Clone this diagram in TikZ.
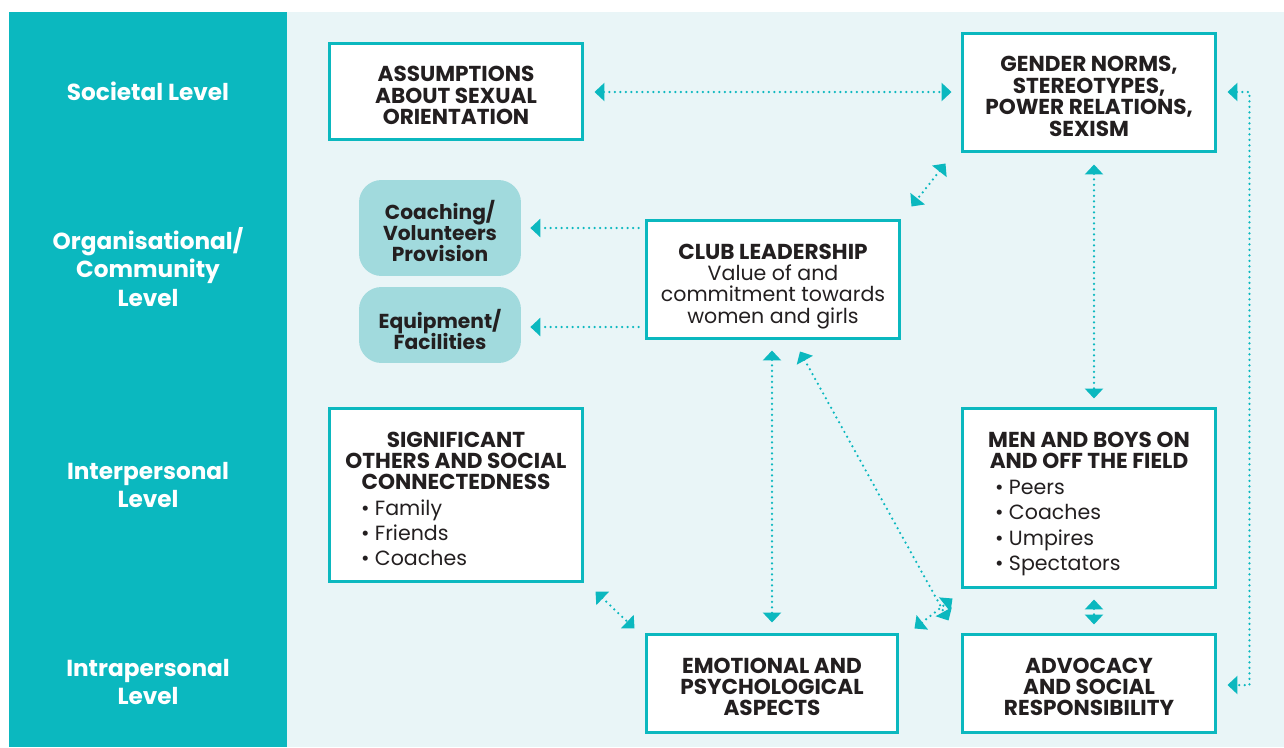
\documentclass[tikz,border=0pt]{standalone}
\usepackage{fontspec}
\setmainfont{Poppins}
\usetikzlibrary{arrows.meta,calc}
\definecolor{teal}{HTML}{0BB8BF}
\definecolor{panel}{HTML}{E9F5F7}
\definecolor{soft}{HTML}{A1DADD}
\definecolor{ink}{HTML}{231F20}
\AtBeginDocument{\lineskiplimit=-20pt\relax}
\tikzset{
  box/.style={draw=teal, line width=0.06cm, fill=white, inner sep=0pt, text=ink, align=center,
    font=\fontsize{12.3}{12.2}\selectfont},
  softbox/.style={fill=soft, rounded corners=0.45cm, inner sep=0pt, text=ink, align=center,
    font=\bfseries\fontsize{11.5}{12}\selectfont},
  lvl/.style={text=white, align=center, font=\bfseries\fontsize{13.2}{16}\selectfont},
  conn/.style={draw=teal, line width=0.05cm, dash pattern=on 0pt off 0.11cm, line cap=round,
    {Triangle[length=0.2cm,width=0.36cm]}-{Triangle[length=0.2cm,width=0.36cm]}},
  conn1/.style={draw=teal, line width=0.05cm, dash pattern=on 0pt off 0.11cm, line cap=round,
    -{Triangle[length=0.2cm,width=0.36cm]}}
}
\newcommand{\body}{\fontsize{11.7}{12.2}\selectfont\mdseries}
\newcommand{\bul}[2]{\makebox[#1][l]{\body\textbullet\ #2}}
\newcommand{\tp}[1]{\rule{0pt}{#1}}
\begin{document}
\begin{tikzpicture}[x=0.02cm,y=-0.02cm]
\useasboundingbox (0,0) rectangle (1284,747);
\fill[white] (0,0) rectangle (1284,747);
\fill[panel] (287,12) rectangle (1284,747);
\fill[teal] (9,12) rectangle (287,747);
% level labels
\node[lvl] (l1) at (148,91) {Societal Level};
\node[lvl] (l2) at (148,267) {Organisational/\\Community\\Level};
\node[lvl] (l3) at (148,485) {Interpersonal\\Level};
\node[lvl] (l4) at (148,682) {Intrapersonal\\Level};
% boxes
\node[box, minimum width=5.08cm, minimum height=1.94cm] (ass) at (456,91.5)
  {\tp{13.2pt}\bfseries ASSUMPTIONS\\\bfseries ABOUT SEXUAL\\\bfseries ORIENTATION};
\node[box, minimum width=5.08cm, minimum height=2.38cm] (gen) at (1089,92.5)
  {\tp{13.2pt}\bfseries GENDER NORMS,\\\bfseries STEREOTYPES,\\\bfseries POWER RELATIONS,\\\bfseries SEXISM};
\node[softbox, minimum width=3.24cm, minimum height=1.92cm] (coach) at (440,228)
  {\tp{14pt}Coaching/\\Volunteers\\Provision};
\node[softbox, minimum width=3.24cm, minimum height=1.52cm] (equip) at (440,325)
  {\tp{16.3pt}Equipment/\\Facilities};
\node[box, minimum width=5.08cm, minimum height=2.38cm] (club) at (773,279.5)
  {\tp{16.5pt}\bfseries CLUB LEADERSHIP\\{\body Value of and}\\{\body commitment towards}\\{\body women and girls}};
\node[box, minimum width=5.08cm, minimum height=3.48cm] (sig) at (456,495)
  {\tp{13.2pt}\bfseries SIGNIFICANT\\\bfseries OTHERS AND SOCIAL\\\bfseries CONNECTEDNESS\\[2.2pt]
   \bul{3.8cm}{Family}\\[2.2pt]
   \bul{3.8cm}{Friends}\\[2.2pt]
   \bul{3.8cm}{Coaches}};
\node[box, minimum width=5.08cm, minimum height=3.6cm] (men) at (1089,498)
  {\tp{15.4pt}\bfseries MEN AND BOYS ON\\\bfseries AND OFF THE FIELD\\[2.5pt]
   \bul{3.76cm}{Peers}\\[2.2pt]
   \bul{3.76cm}{Coaches}\\[2.2pt]
   \bul{3.76cm}{Umpires}\\[2.2pt]
   \bul{3.76cm}{Spectators}};
\node[box, minimum width=5.04cm, minimum height=1.96cm] (emo) at (772,683)
  {\tp{13.2pt}\bfseries EMOTIONAL AND\\\bfseries PSYCHOLOGICAL\\\bfseries ASPECTS};
\node[box, minimum width=5.08cm, minimum height=1.96cm] (adv) at (1089,683)
  {\tp{13.2pt}\bfseries ADVOCACY\\\bfseries AND SOCIAL\\\bfseries RESPONSIBILITY};
% connectors
\draw[conn] ($(ass.east)+(10,0.5)$) -- ($(gen.west)+(-9,-0.5)$);
\draw[conn] ($(gen.south west)+(-15,10)$) -- ($(club.north east)+(10,-12)$);
\draw[conn1] ($(club.west)+(-6,-51.5)$) -- ($(coach.east)+(9,0)$);
\draw[conn1] ($(club.west)+(-6,47.5)$) -- ($(equip.east)+(9,2)$);
\draw[conn] ($(gen.south)+(5,11)$) -- ($(men.north)+(5,-8)$);
\draw[conn] ($(gen.east)+(10,-0.5)$) -- ++(22,0) |- ($(adv.east)+(10,2)$);
\draw[conn] ($(club.south)+(-1,10)$) -- ($(emo.north)+(0,-10)$);
\draw[conn] ($(club.south)+(27,11)$) -- ($(adv.north west)+(-12,-12)$);
\draw[conn] ($(emo.north east)+(15,-4)$) -- ($(men.south west)+(-8,9)$);
\draw[conn] ($(men.south)+(5,10)$) -- ($(adv.north)+(5,-8)$);
\draw[conn] ($(sig.south east)+(11,8)$) -- ($(emo.north west)+(-10,-4)$);
\end{tikzpicture}
\end{document}
